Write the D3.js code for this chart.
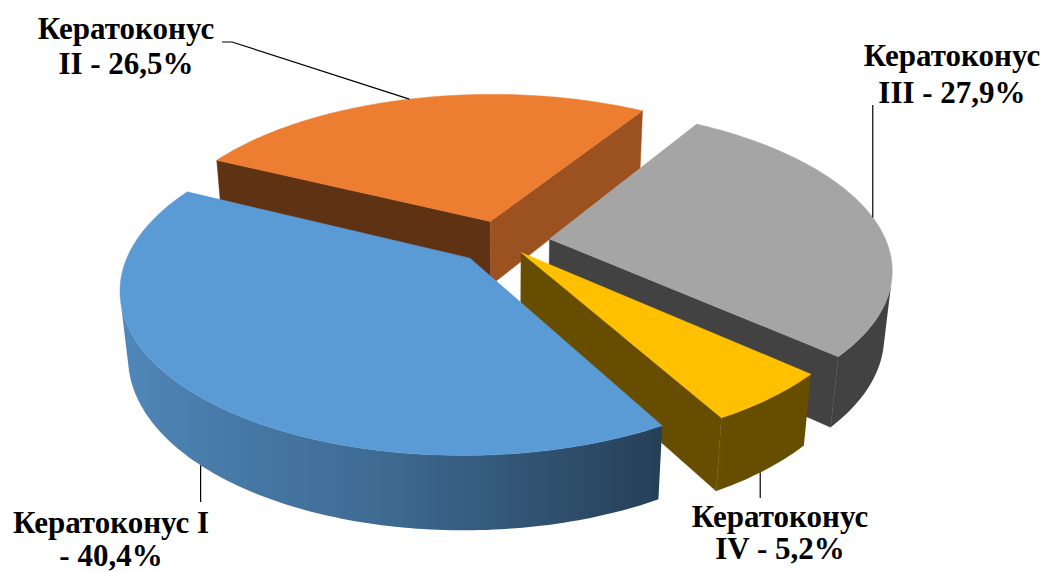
<!DOCTYPE html>
<html>
<head>
<meta charset="utf-8">
<script src="https://cdn.jsdelivr.net/npm/d3@7"></script>
<style>
  html, body { margin: 0; padding: 0; background: #ffffff; }
  svg { display: block; }
  .lbl { font-family: "Liberation Serif", "Times New Roman", serif; font-weight: bold; font-size: 31px; fill: #000; }
</style>
</head>
<body>
<script>
// Keratoconus stages, share of patients (%)
const categories = ["Кератоконус I", "Кератоконус II", "Кератоконус III", "Кератоконус IV"];
const values = [40.4, 26.5, 27.9, 5.2];
const labelLines = [
  ["Кератоконус I", "- 40,4%"],
  ["Кератоконус", "II - 26,5%"],
  ["Кератоконус", "III - 27,9%"],
  ["Кератоконус", "IV - 5,2%"]
];
const topColors = ["#5B9BD5", "#ED7D31", "#A5A5A5", "#FFC000"];

const W = 1049, H = 572;
const svg = d3.select("body").append("svg").attr("width", W).attr("height", H);
const defs = svg.append("defs");

// ---- 3D view set-up (unit pie radius) ----
const firstAngle = 150.8 * Math.PI / 180; // angle of first slice, clockwise from 12 o'clock
const tilt = 27.6 * Math.PI / 180;        // elevation of the eye above the pie plane
const dist = 5.03;                        // eye distance, in pie radii
const focal = 1695;                       // projection scale
const thick = 0.222;                      // pie height, in pie radii
const explodeBy = [0.14, 0.14, 0.14, 0.085]; // slice separation, in pie radii
const cx = 503, cy = 242;                 // screen position of the pie centre

const sinT = Math.sin(tilt), cosT = Math.cos(tilt);
const eye = [0, -dist * cosT, dist * sinT];

function project(p) {
  const [x, y, z] = p;
  const v = y * sinT + z * cosT;
  const w = dist + y * cosT - z * sinT;
  return [cx + focal * x / w, cy - focal * v / w, w];
}

const pie = d3.pie().sort(null).value(d => d)
  .startAngle(firstAngle).endAngle(firstAngle + 2 * Math.PI);
const arcs = pie(values);

const STEP = Math.PI / 180;
const line = d3.line();

function shadeColor(c, k) {
  const r = d3.rgb(c);
  return d3.rgb(r.r * k, r.g * k, r.b * k).formatHex();
}
// brightness of the curved rim as a function of its outward direction
function rimShade(s) {
  if (s < -0.2) return 0.69 - 0.25 * (s + 0.2);
  return Math.max(0.4, 0.69 - 0.41 * (s + 0.2));
}
// brightness of the flat radial walls
function wallShade(nx) { return 0.4 + 0.3 * Math.max(0, nx); }

function facing(pt, n) {
  return (eye[0] - pt[0]) * n[0] + (eye[1] - pt[1]) * n[1] + (eye[2] - pt[2]) * n[2] > 0;
}

const slices = arcs.map((a, i) => {
  const s = a.startAngle, e = a.endAngle, m = (s + e) / 2;
  const ox = explodeBy[i] * Math.sin(m), oy = explodeBy[i] * Math.cos(m);
  const P = (t, r, z) => [ox + r * Math.sin(t), oy + r * Math.cos(t), z];
  const n = Math.max(2, Math.ceil((e - s) / STEP));
  const ts = d3.range(n + 1).map(k => s + (e - s) * k / n);
  const centroid = project(P(m, 0.5, -thick / 2));
  return { i, s, e, m, P, ts, depth: centroid[2] };
});

const sideLayer = svg.append("g");
const topLayer = svg.append("g");

// side walls, far slices first
slices.slice().sort((a, b) => b.depth - a.depth).forEach(sl => {
  const base = topColors[sl.i];
  const g = sideLayer.append("g");

  // radial walls
  const walls = [
    { t: sl.s, n: [-Math.cos(sl.s), Math.sin(sl.s), 0] },
    { t: sl.e, n: [Math.cos(sl.e), -Math.sin(sl.e), 0] }
  ];
  walls.forEach(wl => {
    const mid = sl.P(wl.t, 0.5, -thick / 2);
    if (!facing(mid, wl.n)) return;
    const quad = [sl.P(wl.t, 0, 0), sl.P(wl.t, 1, 0), sl.P(wl.t, 1, -thick), sl.P(wl.t, 0, -thick)]
      .map(p => project(p).slice(0, 2));
    g.append("path").attr("d", line(quad) + "Z")
      .attr("fill", shadeColor(base, wallShade(wl.n[0])))
      .attr("stroke", shadeColor(base, wallShade(wl.n[0]))).attr("stroke-width", 0.5);
  });

  // curved rim: visible part only
  const vis = sl.ts.filter(t => facing(sl.P(t, 1, -thick / 2), [Math.sin(t), Math.cos(t), 0]));
  if (vis.length > 1) {
    const topPts = vis.map(t => project(sl.P(t, 1, 0)).slice(0, 2));
    const botPts = vis.map(t => project(sl.P(t, 1, -thick)).slice(0, 2)).reverse();
    const xs = topPts.map(p => p[0]);
    const x1 = d3.min(xs), x2 = d3.max(xs);
    const gid = "rim" + sl.i;
    const grad = defs.append("linearGradient").attr("id", gid)
      .attr("gradientUnits", "userSpaceOnUse")
      .attr("x1", x1).attr("x2", x2).attr("y1", 0).attr("y2", 0);
    const stops = vis.map((t, k) => ({
      off: x2 > x1 ? (topPts[k][0] - x1) / (x2 - x1) : 0,
      col: shadeColor(base, rimShade(Math.sin(t)))
    })).sort((a, b) => a.off - b.off);
    grad.selectAll("stop").data(stops).join("stop")
      .attr("offset", d => d.off).attr("stop-color", d => d.col);
    g.append("path").attr("d", line(topPts.concat(botPts)) + "Z")
      .attr("fill", `url(#${gid})`);
  }
});

// top faces are never hidden when the eye is above the pie
slices.forEach(sl => {
  const pts = [project(sl.P(sl.m, 0, 0))].concat(sl.ts.map(t => project(sl.P(t, 1, 0))))
    .map(p => p.slice(0, 2));
  topLayer.append("path").attr("d", line(pts) + "Z")
    .attr("fill", topColors[sl.i]).attr("stroke", topColors[sl.i]).attr("stroke-width", 0.5);
});

// ---- labels with leader lines ----
// anchor: fraction along the slice, edge (0 = top rim, 1 = bottom rim)
const labelLayout = [
  { frac: 0.50, edge: 1, x: 111, y: 533, lh: 33, leader: "v", end: 502 },
  { frac: 0.49, edge: 0, x: 126, y: 39, lh: 35, leader: "d", end: [232, 42], stub: 222 },
  { frac: 0.50, edge: 0, x: 952, y: 66, lh: 37, leader: "v", end: 105 },
  { frac: 0.55, edge: 1, x: 780, y: 527, lh: 32, leader: "v", end: 498 }
];

const labelLayer = svg.append("g");
slices.forEach(sl => {
  const L = labelLayout[sl.i];
  const t = sl.s + (sl.e - sl.s) * L.frac;
  const a = project(sl.P(t, 1, L.edge ? -thick : 0));
  let pts;
  if (L.leader === "v") pts = [[a[0], a[1]], [a[0], L.end]];
  else pts = [[a[0], a[1]], L.end, [L.stub, L.end[1]]];
  labelLayer.append("path").attr("d", line(pts)).attr("fill", "none")
    .attr("stroke", "#000").attr("stroke-width", 1.2);
  const txt = labelLayer.append("text").attr("class", "lbl").attr("text-anchor", "middle");
  labelLines[sl.i].forEach((s, k) => {
    txt.append("tspan").attr("x", L.x).attr("y", L.y + k * L.lh).text(s);
  });
});
</script>
</body>
</html>
